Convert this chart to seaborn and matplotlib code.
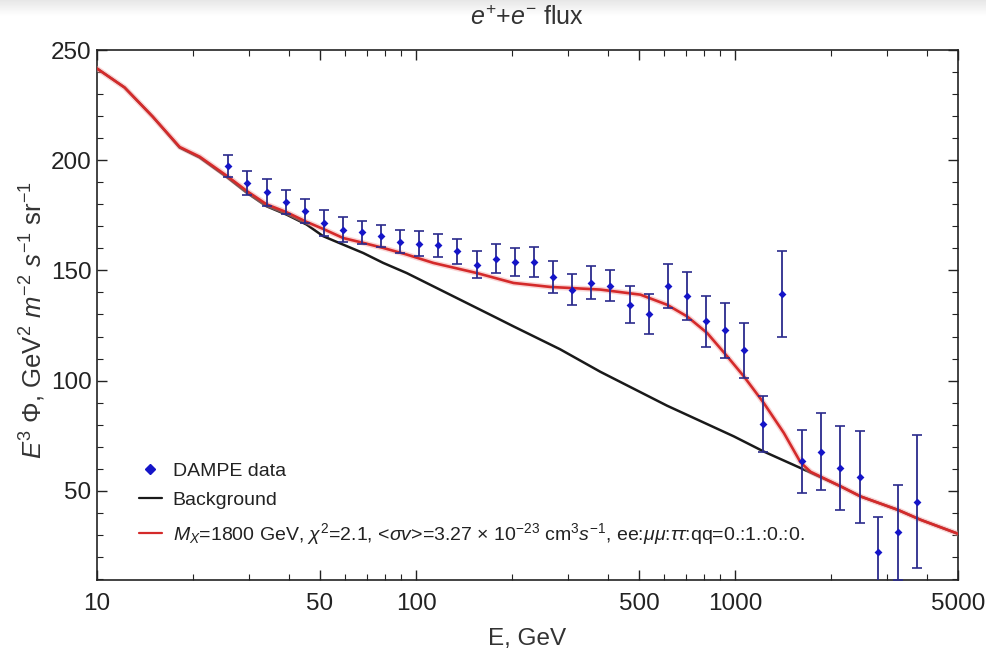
import numpy as np
import pandas as pd
import matplotlib
matplotlib.use("Agg")
import matplotlib.pyplot as plt
from matplotlib.ticker import FixedLocator, NullFormatter, FixedFormatter
from matplotlib.lines import Line2D
import seaborn as sns

# DAMPE electron+positron flux (E^3 * flux)
energy = [25.7, 29.5, 34.1, 39.1, 44.8, 51.4, 59.0, 67.7, 77.7, 89.1,
          102.2, 117.3, 134.5, 155.4, 178.3, 204.6, 234.7, 269.3, 308.9, 354.4,
          406.5, 467.5, 536.3, 615.2, 707.8, 812.1, 929.0, 1066, 1226, 1407,
          1618, 1856, 2129, 2460, 2816, 3231, 3715]
flux = [197.2, 189.7, 185.4, 181.2, 177.1, 171.5, 168.5, 167.3, 165.5, 163.1,
        162.1, 161.4, 158.6, 152.6, 155.3, 153.8, 153.8, 147.0, 141.3, 144.4,
        143.1, 134.4, 130.4, 143.1, 138.5, 126.9, 122.8, 113.7, 80.3, 139.4,
        63.3, 67.8, 60.3, 56.1, 22.0, 31.1, 45.1]
flux_err = [5.0, 5.3, 6.0, 5.4, 5.4, 5.8, 5.8, 5.3, 5.1, 5.4,
            5.6, 5.3, 5.6, 6.0, 6.7, 6.4, 6.8, 7.1, 7.1, 7.5,
            7.0, 8.3, 9.1, 10.0, 10.8, 11.7, 12.4, 12.5, 12.6, 19.5,
            14.5, 17.6, 18.9, 20.9, 15.9, 21.7, 30.3]

# Astrophysical background
bg_energy = [10, 12.2, 14.94, 18.16, 20.98, 25.7, 29.5, 34.0, 39.3, 45.4,
             51.2, 59.1, 68.3, 78.9, 93.5, 179.2, 202.1, 283.0, 378.2, 612.5,
             991, 1231, 1606, 2144, 2478, 3231, 3822, 5000]
bg_flux = [241.6, 233.0, 219.8, 205.7, 201.2, 192.0, 185.2, 179.1, 175.3, 170.8,
           165.5, 161.7, 157.9, 153.4, 148.8, 128.4, 124.6, 114.2, 104.0, 88.6,
           74.7, 67.8, 60.3, 52.0, 47.4, 41.4, 36.8, 30.5]

# Background + dark matter annihilation (M_X = 1800 GeV, mu mu channel)
dm_energy = [10, 12.2, 14.94, 18.16, 20.98, 25.7, 29.5, 34.0, 39.3, 45.4,
             51.2, 59.1, 68.3, 78.9, 93.5, 113.3, 155.1, 202.1, 263.4, 378.2,
             505, 612.5, 707.9, 817.7, 945.2, 1066, 1231, 1423, 1606, 1726,
             2144, 2478, 3231, 3822, 5000]
dm_flux = [241.6, 233.0, 219.8, 206.0, 201.6, 192.6, 186.0, 180.0, 176.4, 172.0,
           168.8, 164.7, 162.5, 160.2, 157.2, 153.4, 148.8, 144.3, 142.5, 141.3,
           139.0, 134.4, 129.1, 121.6, 111.0, 101.9, 89.8, 76.2, 62.8, 58.6,
           52.0, 47.4, 41.4, 36.8, 30.5]

x_major = [10, 50, 100, 500, 1000, 5000]
x_minor = [20, 30, 40, 60, 70, 80, 90, 200, 300, 400, 600, 700, 800, 900,
           2000, 3000, 4000]
y_major = [50, 100, 150, 200, 250]

sns.set_theme(style="ticks")
plt.rcParams["font.family"] = ["Liberation Sans", "DejaVu Sans"]
plt.rcParams["mathtext.fontset"] = "custom"
plt.rcParams["mathtext.rm"] = "Liberation Sans"
plt.rcParams["mathtext.it"] = "Liberation Sans:italic"
plt.rcParams["mathtext.bf"] = "Liberation Sans:bold"

fig = plt.figure(figsize=(9.86, 6.54), dpi=100)
fig.patch.set_facecolor("white")

# faint grey band along the top edge
band = np.linspace(0.90, 1.0, 32).reshape(-1, 1)
bax = fig.add_axes([0, 0.975, 1, 0.025])
bax.imshow(band, cmap="gray", vmin=0, vmax=1, aspect="auto",
           extent=[0, 1, 0, 1], origin="upper")
bax.axis("off")

ax = fig.add_axes([0.0984, 0.1131, 0.8732, 0.8104])

bg_df = pd.DataFrame({"E": bg_energy, "F": bg_flux})
dm_df = pd.DataFrame({"E": dm_energy, "F": dm_flux})

sns.lineplot(data=bg_df, x="E", y="F", ax=ax, color="#1a1a1a", lw=1.8,
             sort=False, estimator=None, zorder=3)
# soft halo under the model curve
sns.lineplot(data=dm_df, x="E", y="F", ax=ax, color="#f2a0a0", lw=4.0,
             alpha=0.45, sort=False, estimator=None, zorder=3.5)
sns.lineplot(data=dm_df, x="E", y="F", ax=ax, color="#d42a2a", lw=1.9,
             sort=False, estimator=None, zorder=4)

ax.errorbar(energy, flux, yerr=flux_err, fmt="none", ecolor="#2b2b8c",
            elinewidth=1.3, capsize=3.5, capthick=1.2, zorder=5)
sns.scatterplot(x=energy, y=flux, ax=ax, marker="D", s=16, color="#1515c8",
                edgecolor="#1515c8", linewidth=0, zorder=6)

ax.set_xscale("log")
ax.set_xlim(10, 5000)
ax.set_ylim(9.5, 250)

ax.xaxis.set_major_locator(FixedLocator(x_major))
ax.xaxis.set_major_formatter(FixedFormatter([str(v) for v in x_major]))
ax.xaxis.set_minor_locator(FixedLocator(x_minor))
ax.xaxis.set_minor_formatter(NullFormatter())
ax.yaxis.set_major_locator(FixedLocator(y_major))
ax.yaxis.set_minor_locator(FixedLocator([v for v in range(10, 250, 10) if v % 50]))

ax.tick_params(axis="both", which="both", direction="in", top=True, right=True,
               color="#222222", labelsize=17.5, labelcolor="#222222")
ax.tick_params(axis="x", which="major", pad=9)
ax.tick_params(axis="y", which="major", pad=4)
ax.tick_params(axis="both", which="major", length=7, width=1.0)
ax.tick_params(axis="both", which="minor", length=4, width=0.8)
for s in ax.spines.values():
    s.set_linewidth(1.2)
    s.set_color("#222222")

ax.set_xlabel("E, GeV", fontsize=17.5, color="#333333", labelpad=10)
ax.set_ylabel(r"$E^3$ Φ, GeV$^2$ $m^{-2}$ $s^{-1}$ sr$^{-1}$", fontsize=18.5,
              color="#333333")
ax.yaxis.set_label_coords(-0.057, 0.49)
ax.set_title(r"$e^{+}$+$e^{-}$ flux", fontsize=18, color="#333333", pad=18)

handles = [
    Line2D([], [], ls="none", marker="D", ms=5, color="#1515c8"),
    Line2D([], [], color="#1a1a1a", lw=1.6),
    Line2D([], [], color="#d42a2a", lw=1.6),
]
labels = [
    "DAMPE data",
    "Background",
    r"$M_X$=1800 GeV, $\chi^2$=2.1, <$\sigma v$>=3.27 × 10$^{-23}$ cm$^3$$s^{-1}$, "
    r"ee:$\mu\mu$:$\tau\tau$:qq=0.:1.:0.:0.",
]
ax.legend(handles, labels, loc="lower left", bbox_to_anchor=(0.028, 0.03),
          frameon=False, fontsize=14, handlelength=1.2, handletextpad=0.55,
          labelspacing=0.6, labelcolor="#222222")

fig.savefig("out.png", dpi=100, facecolor="white")
